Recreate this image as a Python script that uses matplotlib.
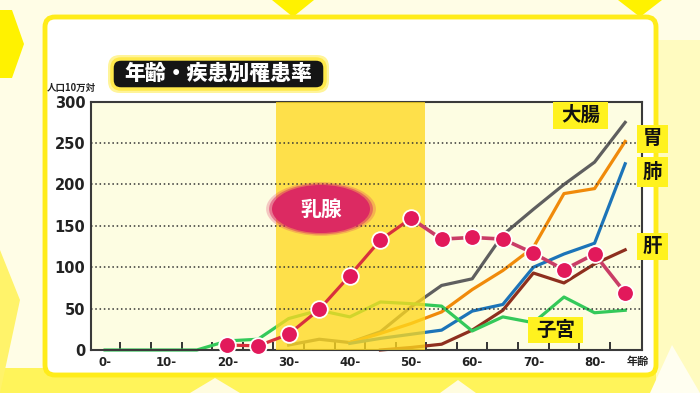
import numpy as np
import matplotlib
matplotlib.use("Agg")
import matplotlib.pyplot as plt
from matplotlib.patches import FancyBboxPatch, Ellipse, Polygon, Rectangle

plt.rcParams['font.family'] = ['Noto Sans CJK JP', 'DejaVu Sans']

# age groups 0-4, 5-9, ..., 85+
age_groups = ['0-', '5-', '10-', '15-', '20-', '25-', '30-', '35-', '40-',
              '45-', '50-', '55-', '60-', '65-', '70-', '75-', '80-', '85-']
tick_labels = ['0-', '10-', '20-', '30-', '40-', '50-', '60-', '70-', '80-']
yticks = [0, 50, 100, 150, 200, 250, 300]
nan = np.nan

# incidence per 100,000
breast = [nan, nan, nan, nan, 6, 5, 19, 49, 90, 133, 159, 134, 136, 134, 117, 97, 116, 69]
uterus = [0, 0, 0, 0, 11, 13, 38, 48, 40, 58, 56, 53, 23, 40, 33, 64, 45, 48]
colon = [nan, nan, nan, nan, nan, nan, 6, 13, 9, 22, 52, 78, 86, 139, 170, 200, 227, 275]
stomach = [nan, nan, nan, nan, nan, nan, nan, nan, 9, 20, 32, 46, 73, 96, 124, 189, 195, 252]
lung = [nan, nan, nan, nan, nan, nan, nan, nan, 8, 14, 19, 24, 47, 55, 100, 116, 129, 225]
liver = [nan, nan, nan, nan, nan, nan, nan, nan, nan, 0, 3, 7, 24, 48, 93, 81, 104, 121]

W, H = 700, 393
fig = plt.figure(figsize=(7, 3.93), dpi=100)
fig.patch.set_facecolor('#fffde6')


def px_box(x0, y0, x1, y1, r, **kw):
    p = FancyBboxPatch((x0 / 100, (H - y1) / 100), (x1 - x0) / 100, (y1 - y0) / 100,
                       boxstyle=f"round,pad=0,rounding_size={r / 100}",
                       transform=fig.dpi_scale_trans, **kw)
    fig.add_artist(p)
    return p


def px_poly(pts, **kw):
    p = Polygon([(x / 100, (H - y) / 100) for x, y in pts], closed=True,
                transform=fig.dpi_scale_trans, **kw)
    fig.add_artist(p)


def ftext(x, y, s, **kw):
    fig.text(x / W, 1 - y / H, s, ha='center', va='center', **kw)


# background decoration
fig.add_artist(Rectangle((0, 0), 7, 0.25, transform=fig.dpi_scale_trans,
                         color='#fff45a', lw=0, zorder=-20))
px_poly([(0, 10), (12, 10), (24, 44), (12, 78), (0, 78)], color='#fff200', lw=0, zorder=-19)
px_poly([(0, 250), (20, 300), (0, 393)], color='#fff36a', lw=0, zorder=-19)
px_poly([(272, 0), (314, 0), (293, 17)], color='#fff200', lw=0, zorder=-19)
px_poly([(618, 0), (662, 0), (640, 17)], color='#fff200', lw=0, zorder=-19)
px_poly([(656, 40), (700, 40), (700, 393), (656, 393)], color='#fffbc0', lw=0, zorder=-19)
px_poly([(190, 393), (215, 378), (240, 393)], color='#fffce0', lw=0, zorder=-18)
px_poly([(440, 393), (458, 380), (476, 393)], color='#fffce0', lw=0, zorder=-18)
px_poly([(650, 393), (672, 345), (700, 393)], color='#fffef0', lw=0, zorder=-18)

# white panel
px_box(45, 17, 656, 375, 10, facecolor='white', edgecolor='#ffec1a', lw=3.5, zorder=-10)

ax = fig.add_axes([91 / W, 1 - 350 / H, 551 / W, 248.3 / H])
ax.set_facecolor('#fdfde2')
x = np.arange(len(age_groups))

ax.axvspan(5.6, 10.45, color='#ffd91f', alpha=0.78, lw=0, zorder=3)

ax.plot(x, colon, color='#5f5f5f', lw=2.3, zorder=2, clip_on=False)
ax.plot(x, stomach, color='#f08a0a', lw=2.3, zorder=2, clip_on=False)
ax.plot(x, lung, color='#1c74b8', lw=2.3, zorder=2, clip_on=False)
ax.plot(x, liver, color='#8e2f1e', lw=2.3, zorder=2, clip_on=False)
ax.plot(x, uterus, color='#34c95a', lw=2.3, zorder=2, clip_on=False)

for yv in yticks[1:-1]:
    ax.axhline(yv, color='#333333', lw=1.1, ls=(0, (1, 1.8)), zorder=4)

ax.plot(x[4:11], breast[4:11], color='#d8303c', lw=2.3, zorder=5, clip_on=False)
ax.plot(x[10:], breast[10:], color='#c93d66', lw=2.6, zorder=5, clip_on=False)
ax.plot(x, breast, ls='none', marker='o', ms=12, mfc='#e2195b', mec='white',
        mew=1.3, zorder=6, clip_on=False)

ax.set_xlim(-0.46, 17.55)
ax.set_ylim(0, 300)
ax.set_xticks(x[::2])
ax.set_xticklabels(tick_labels, family='DejaVu Sans', fontsize=8.5,
                   fontweight='bold', color='#222222')
ax.set_xticks(np.arange(0.5, 17, 1), minor=True)
ax.tick_params(axis='x', which='major', length=0, pad=4)
ax.tick_params(axis='x', which='minor', direction='in', length=6, width=1.4, color='#333333')
ax.set_yticks(yticks)
ax.set_yticklabels([str(v) for v in yticks], family='DejaVu Sans', fontsize=10.5,
                   fontweight='bold', color='#222222')
ax.tick_params(axis='y', length=0, pad=4)
for s in ax.spines.values():
    s.set_color('#3a3a3a')
    s.set_linewidth(1.5)

ftext(638, 361, '年齢', fontsize=8, fontweight='bold', color='#222222')
ftext(71, 88, '人口10万対', fontsize=6.8, fontweight='bold', color='#222222')

# title
px_box(108, 55, 329, 93, 12, facecolor='#ffee55', edgecolor='none', alpha=0.6, zorder=5)
px_box(112, 59, 325, 89, 9, facecolor='#151515', edgecolor='#ffe94a', lw=2.5, zorder=6)
ftext(218.5, 73.5, '年齢・疾患別罹患率', fontsize=15, fontweight='heavy', color='white', zorder=7)

# series labels
for (x0, y0, x1, y1, s) in [(553, 102, 608, 129, '大腸'), (637, 125, 668, 153, '胃'),
                             (637, 157, 668, 187, '肺'), (637, 233, 668, 260, '肝'),
                             (528, 317, 583, 343, '子宮')]:
    fig.add_artist(Rectangle((x0 / 100, (H - y1) / 100), (x1 - x0) / 100, (y1 - y0) / 100,
                             transform=fig.dpi_scale_trans, color='#fff21f', lw=0, zorder=8))
    ftext((x0 + x1) / 2, (y0 + y1) / 2, s, fontsize=14, fontweight='bold',
          color='#111111', zorder=9)

for k, a in [(1.12, 0.25), (1.06, 0.5), (1.0, 1.0)]:
    fig.add_artist(Ellipse((321 / 100, (H - 209) / 100), 0.98 * k, 0.48 * k,
                           transform=fig.dpi_scale_trans, color='#dc2a62', alpha=a, lw=0, zorder=8))
ftext(321, 209, '乳腺', fontsize=15, fontweight='bold', color='white', zorder=9)

fig.savefig('out.png', dpi=100)
